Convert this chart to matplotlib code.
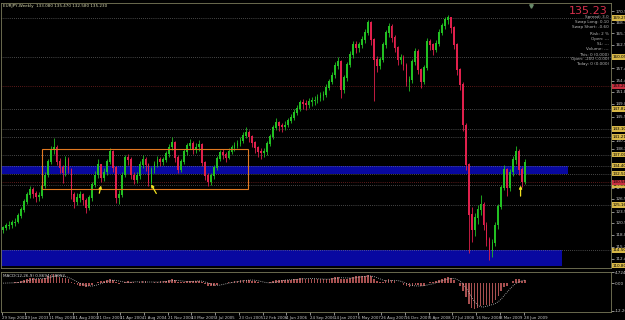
import numpy as np
import pandas as pd
import matplotlib
matplotlib.use("Agg")
import matplotlib.pyplot as plt
from matplotlib.patches import Rectangle

# ---------------- data (2-week candles, EURJPY weekly chart) ----------------
first_open = 119.2
closes = [119.7, 120.2, 120.4, 120.9, 121.1, 122.6, 124.0, 125.9, 127.5, 128.7,
          127.8, 127.0, 127.3, 129.6, 132.2, 135.3, 138.1, 138.8, 135.3, 133.9,
          132.7, 135.8, 133.4, 127.5, 125.9, 126.8, 127.5, 126.3, 124.5, 126.8,
          129.9, 132.2, 134.6, 131.5, 132.9, 135.3, 137.7, 133.9, 126.8, 127.5,
          132.2, 136.3, 135.8, 132.2, 131.1, 132.0, 134.6, 135.8, 134.6, 130.6,
          133.4, 134.8, 135.8, 135.3, 135.8, 137.2, 138.8, 139.8, 136.3, 133.4,
          135.3, 137.7, 139.1, 139.6, 138.1, 138.8, 139.3, 135.1, 132.0, 130.6,
          132.0, 133.9, 136.0, 137.4, 137.0, 136.3, 137.7, 138.6, 139.1, 139.6,
          140.3, 141.5, 142.2, 141.2, 139.8, 138.6, 137.7, 137.4, 137.7, 139.6,
          141.2, 143.3, 144.5, 143.8, 143.6, 144.0, 145.0, 145.7, 146.9, 147.8,
          149.2, 149.0, 148.8, 149.5, 149.7, 149.9, 150.4, 150.9, 151.1, 152.8,
          154.2, 155.8, 158.0, 158.9, 152.3, 155.1, 158.2, 160.6, 162.9, 162.2,
          162.9, 164.1, 165.8, 168.3, 164.1, 159.4, 158.0, 159.4, 162.9, 165.8,
          167.2, 164.6, 162.2, 159.4, 159.9, 158.0, 154.2, 154.7, 158.9, 161.3,
          157.0, 154.2, 157.5, 163.6, 162.9, 161.7, 163.2, 165.8, 167.4, 168.8,
          169.3, 166.9, 162.9, 157.0, 153.5, 144.0, 134.6, 122.8, 119.3, 122.1,
          124.0, 125.2, 120.4, 116.9, 114.3, 116.2, 120.4, 124.7, 129.2, 133.4,
          129.2, 132.9, 135.8, 137.7, 133.4, 130.6, 135.23]
highs = [120.3, 120.9, 121.3, 121.6, 122.0, 123.2, 124.8, 126.6, 128.3, 129.6,
         129.4, 128.4, 128.2, 130.2, 132.9, 136.0, 139.0, 140.9, 139.4, 136.2,
         134.6, 136.7, 136.4, 133.9, 128.2, 127.9, 128.4, 128.1, 126.9, 127.6,
         130.6, 133.1, 136.1, 134.9, 133.8, 136.0, 138.7, 138.2, 134.4, 128.6,
         132.9, 137.0, 137.2, 136.4, 133.0, 132.9, 135.5, 136.9, 136.4, 135.0,
         134.2, 135.6, 136.8, 136.6, 136.5, 137.9, 139.6, 141.1, 140.2, 137.0,
         136.1, 138.4, 139.9, 140.8, 140.2, 139.7, 140.4, 139.8, 135.6, 132.7,
         132.8, 134.7, 136.8, 138.2, 138.3, 137.6, 138.6, 139.4, 140.0, 140.5,
         141.1, 142.4, 143.6, 142.8, 141.7, 140.3, 139.2, 138.6, 138.7, 140.3,
         142.0, 144.0, 145.6, 145.1, 144.6, 144.9, 145.8, 146.6, 147.7, 148.7,
         150.0, 150.1, 149.9, 150.3, 150.6, 150.9, 151.3, 151.8, 152.1, 153.6,
         155.0, 156.6, 158.9, 160.1, 159.3, 155.9, 159.0, 161.4, 163.8, 163.9,
         163.7, 165.0, 166.6, 168.9, 168.7, 164.6, 160.3, 160.2, 163.6, 166.5,
         168.0, 167.9, 165.2, 162.8, 160.8, 160.5, 158.6, 155.6, 159.7, 162.2,
         161.9, 157.6, 158.3, 164.5, 164.3, 163.5, 164.0, 166.7, 168.2, 169.6,
         170.0, 169.6, 167.4, 163.4, 157.6, 154.1, 144.6, 135.1, 124.6, 123.2,
         125.1, 127.6, 125.9, 121.2, 117.6, 117.1, 121.1, 125.4, 129.9, 134.5,
         133.9, 133.7, 136.7, 139.2, 138.4, 134.1, 135.9]
lows = [118.6, 119.2, 119.6, 119.8, 120.2, 120.8, 122.1, 123.6, 125.4, 126.9,
        126.8, 125.9, 126.0, 126.8, 129.1, 131.8, 134.9, 137.2, 134.6, 132.8,
        130.3, 132.1, 132.6, 126.6, 124.4, 125.1, 125.9, 125.2, 123.2, 124.0,
        126.2, 129.4, 131.6, 130.6, 130.9, 132.3, 134.9, 133.0, 125.6, 125.3,
        127.0, 131.7, 134.5, 131.3, 130.0, 130.4, 131.4, 134.0, 133.2, 129.6,
        130.0, 132.7, 134.1, 134.3, 134.5, 135.2, 136.6, 138.2, 135.4, 132.6,
        132.9, 134.8, 137.0, 138.4, 137.2, 137.4, 138.0, 134.3, 131.0, 129.6,
        129.9, 131.4, 133.4, 135.5, 136.0, 135.4, 135.9, 137.1, 137.9, 138.5,
        139.0, 139.8, 140.9, 140.1, 138.8, 137.5, 136.6, 136.0, 136.4, 137.0,
        139.1, 140.7, 142.8, 142.7, 142.5, 142.8, 143.5, 144.4, 145.2, 146.3,
        147.3, 147.9, 147.6, 148.1, 148.6, 148.8, 149.2, 149.8, 150.0, 150.6,
        152.2, 153.6, 155.2, 157.2, 150.4, 151.6, 154.5, 157.7, 159.9, 161.0,
        161.3, 162.2, 163.5, 165.2, 163.0, 149.6, 156.5, 157.2, 158.8, 162.3,
        164.9, 163.7, 161.2, 158.1, 158.5, 157.0, 153.2, 152.0, 154.0, 158.2,
        156.1, 152.8, 153.6, 157.0, 161.8, 160.5, 161.2, 162.6, 165.3, 166.8,
        167.9, 165.8, 161.9, 155.9, 152.2, 142.6, 133.3, 113.8, 116.5, 117.8,
        120.6, 122.9, 119.2, 115.6, 112.1, 113.0, 115.5, 119.6, 124.1, 128.6,
        127.4, 128.5, 132.0, 134.9, 132.3, 129.3, 130.0]

date_labels = ["29 Sep 2002", "19 Jan 2003", "11 May 2003", "31 Aug 2003", "21 Dec 2003",
               "11 Apr 2004", "1 Aug 2004", "21 Nov 2004", "13 Mar 2005", "3 Jul 2005",
               "23 Oct 2005", "12 Feb 2006", "4 Jun 2006", "24 Sep 2006", "14 Jan 2007",
               "6 May 2007", "26 Aug 2007", "16 Dec 2007", "6 Apr 2008", "27 Jul 2008",
               "16 Nov 2008", "8 Mar 2009", "28 Jun 2009"]
date_weeks = list(range(0, 353, 16))

gray_levels = [170.940, 168.110, 165.750, 162.920, 157.490, 154.430, 151.830, 149.000,
               145.930, 140.270, 138.380, 129.180, 126.580, 123.520, 120.920, 118.090,
               115.260, 112.420]
line_levels = [169.290, 160.090, 147.820, 143.100, 141.210, 137.000, 129.880, 125.160]
red_levels = [153.200, 130.560]
band1 = (132.50, 134.40)
band2 = (110.80, 114.50)

# ---------------- derived ----------------
closes = np.array(closes)
opens = np.concatenate([[first_open], closes[:-1]])
highs = np.array(highs)
lows = np.array(lows)
weeks = np.arange(len(closes)) * 2 + 1

cs = pd.Series(closes)
macd_main = cs.ewm(span=6, adjust=False).mean() - cs.ewm(span=13, adjust=False).mean()
macd_sig = macd_main.rolling(5, min_periods=1).mean()

# ---------------- figure ----------------
W, H = 625, 320
fig = plt.figure(figsize=(W / 100, H / 100), dpi=100, facecolor="black")

def px_box(x0, y0, x1, y1):
    return [x0 / W, 1 - y1 / H, (x1 - x0) / W, (y1 - y0) / H]

ax = fig.add_axes(px_box(1, 3, 611, 268), facecolor="black")
ax2 = fig.add_axes(px_box(1, 272, 611, 312), facecolor="black")

fs = 3.0
narrow = ["Liberation Sans Narrow", "DejaVu Sans"]
frame_col = "#7a7a5a"
for a in (ax, ax2):
    for s in a.spines.values():
        s.set_color(frame_col)
        s.set_linewidth(0.6)
    a.set_xlim(-0.5, 411)
    a.yaxis.tick_right()
    a.tick_params(axis="y", colors="#c8c8c8", labelsize=fs, length=2, width=0.5, pad=1)

# bands and rectangle
ax.add_patch(Rectangle((-1, band1[0]), 383, band1[1] - band1[0], fc="#0808a0", ec="none", zorder=1))
ax.add_patch(Rectangle((-1, band2[0]), 379, band2[1] - band2[0], fc="#0808a0", ec="none", zorder=1))
ax.add_patch(Rectangle((27, 128.9), 139, 9.5, fc="none", ec="#e07820", lw=0.8, zorder=4))

# horizontal level lines
for lv in line_levels + [band1[0], band1[1], band2[1]]:
    ax.axhline(lv, color="#8a8a8a", lw=0.5, ls=(0, (1, 2)), zorder=2)
for lv in red_levels:
    ax.axhline(lv, color="#b03030", lw=0.5, ls=(0, (1, 2)), zorder=2)

# candles
up = closes >= opens
col = np.where(up, "#22c022", "#e0204c")
ax.vlines(weeks, lows, highs, colors=col, lw=0.6, zorder=3)
ax.bar(weeks, np.abs(closes - opens) + 0.15, bottom=np.minimum(opens, closes),
       width=1.2, color=col, zorder=3, linewidth=0)

ax.set_ylim(110.29, 172.83)
ax.set_xticks([])
ax.set_yticks(gray_levels)
ax.set_yticklabels([f"{v:.3f}" for v in gray_levels])

# boxed labels on the price scale
for lv in line_levels + [band1[0], band1[1], band2[1], band2[0]]:
    ax.text(1.002, lv, f"{lv:.3f}", transform=ax.get_yaxis_transform(), fontsize=fs,
            color="black", va="center", ha="left",
            bbox=dict(fc="#d8b848", ec="none", pad=0.4), clip_on=False)
for lv in red_levels:
    ax.text(1.002, lv, f"{lv:.3f}", transform=ax.get_yaxis_transform(), fontsize=fs,
            color="black", va="center", ha="left",
            bbox=dict(fc="#c83040", ec="none", pad=0.4), clip_on=False)

# arrows
arrow = dict(arrowstyle="-|>", color="#f0e020", lw=0.9, mutation_scale=4)
ax.annotate("", xy=(67.4, 130.4), xytext=(65.4, 127.3), arrowprops=arrow, zorder=5)
ax.annotate("", xy=(99.8, 130.6), xytext=(105.2, 127.3), arrowprops=arrow, zorder=5)
ax.annotate("", xy=(350, 130.4), xytext=(350, 126.6), arrowprops=arrow, zorder=5)

ax.plot([357], [172.2], marker="v", color="#6a8a6a", ms=2.5, clip_on=False)

# texts
ax.text(0.004, 0.995, "EURJPY,Weekly  133.080 135.470 132.580 135.230", transform=ax.transAxes,
        fontsize=fs, color="#d8d8b0", va="top", ha="left")
fig.text(608 / W, 1 - 11 / H, "135.23", fontsize=8, color="#d8304c", ha="right", va="center")
info = [("Spread: 3.0", 17), ("Swap Long: 0.10", 22), ("Swap Short: -0.60", 27),
        ("Risk: 2 %", 34), ("Open: ---", 39), ("SL: ---", 44), ("Volume: ---", 49),
        ("This: 0 (0.000)", 55), ("Open: -200 (-0.00)", 59), ("Today: 0 (0.000)", 64)]
for t, y in info:
    fig.text(609 / W, 1 - y / H, t, fontsize=3.0, color="#b8b8b8", ha="right", va="center")

# MACD panel
ax2.bar(weeks, macd_main, width=1.1, color="#a85050", linewidth=0, zorder=2)
ax2.plot(weeks, macd_sig, color="#c8c8c8", lw=0.6, ls=(0, (1, 1.5)), zorder=3)
ax2.set_ylim(-12.7, 4.9)
ax2.set_yticks([4.724, 0.0, -12.2094])
ax2.set_yticklabels(["4.724", "0.00", "-12.2094"])
ax2.text(0.004, 0.96, "MACD(12,26,9) 0.8694 1.8052", transform=ax2.transAxes,
         fontsize=fs, color="#d0d0d0", va="top", ha="left")
ax2.set_xticks(date_weeks)
ax2.set_xticklabels(date_labels, ha="left", family=narrow)
ax2.tick_params(axis="x", colors="#c8c8c8", labelsize=2.8, length=2, width=0.5, pad=1)

fig.savefig("out.png", dpi=100, facecolor="black")
